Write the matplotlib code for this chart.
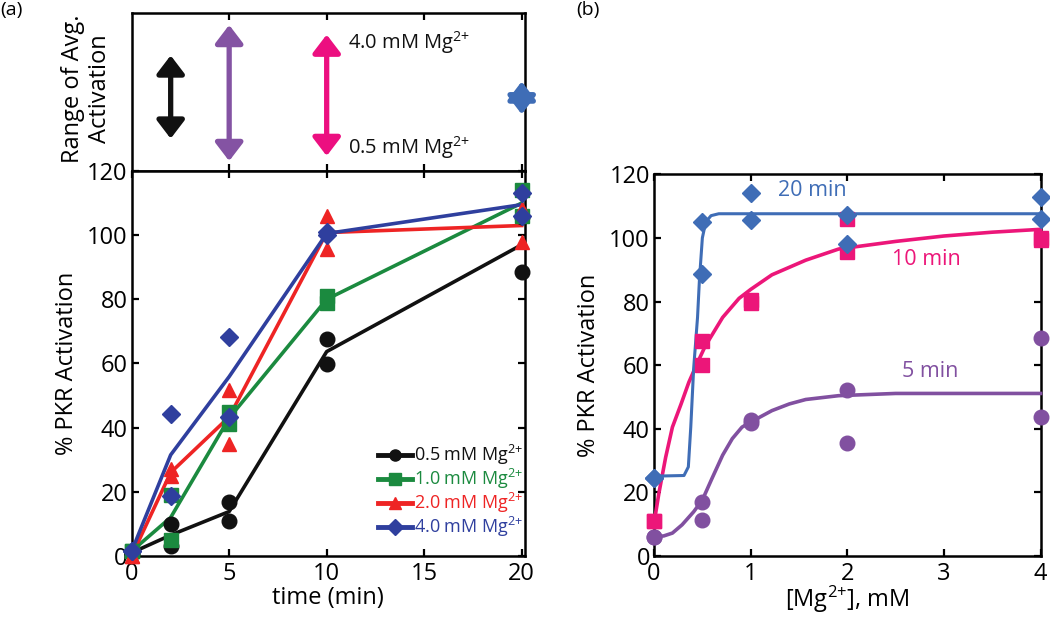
import matplotlib
matplotlib.use("Agg")
import matplotlib.pyplot as plt
import numpy as np

plt.rcParams['font.family'] = ['Open Sans', 'DejaVu Sans']
plt.rcParams['mathtext.fontset'] = 'custom'
plt.rcParams['mathtext.rm'] = 'Open Sans'
plt.rcParams['mathtext.it'] = 'Open Sans'
plt.rcParams['mathtext.default'] = 'regular'

SUP = "$^{2{+}}$"

# ---------------- Panel (a) data ----------------
time_min = [0, 2, 5, 10, 20]
conc_labels = ["0.5 mM Mg" + SUP, "1.0 mM Mg" + SUP, "2.0 mM Mg" + SUP, "4.0 mM Mg" + SUP]
a_colors = ["#111111", "#1b8a3f", "#ee2424", "#2f3f9e"]
a_markers = ["o", "s", "^", "D"]
mg05_rep1 = [1.0, 10.0, 16.7, 67.7, 88.4]
mg05_rep2 = [1.0, 3.0, 11.0, 59.7, 105.6]
mg10_rep1 = [1.5, 5.0, 41.0, 81.0, 114.0]
mg10_rep2 = [1.5, 19.0, 45.0, 79.0, 106.0]
mg20_rep1 = [0.0, 25.0, 51.7, 106.0, 98.0]
mg20_rep2 = [0.0, 27.0, 35.0, 95.6, 108.0]
mg40_rep1 = [1.5, 44.3, 68.4, 101.0, 113.0]
mg40_rep2 = [1.5, 18.7, 43.4, 100.0, 106.0]

# Range-of-average-activation arrows (top strip, fraction of strip height)
arrow_times = [2, 5, 10, 20]
arrow_low = [0.205, 0.063, 0.095, 0.359]
arrow_high = [0.732, 0.925, 0.864, 0.567]
arrow_colors = ["#111111", "#8453a3", "#ec0f80", "#3f6db6"]

# ---------------- Panel (b) data ----------------
mg_mM = [0, 0.5, 1, 2, 4]
b_labels = ["5 min", "10 min", "20 min"]
b_colors = ["#8150a0", "#ec1679", "#3f6db6"]
b_markers = ["o", "s", "D"]
min5_rep1 = [6.1, 17.0, 42.8, 52.2, 68.4]
min5_rep2 = [6.1, 11.3, 41.7, 35.4, 43.6]
min10_rep1 = [11.0, 67.7, 80.5, 106.0, 100.0]
min10_rep2 = [11.0, 60.0, 79.5, 95.7, 99.5]
min20_rep1 = [24.6, 105.0, 114.0, 107.2, 112.8]
min20_rep2 = [24.6, 88.7, 105.7, 98.0, 105.9]

# fitted curves
fit5_x = [0, 0.1, 0.19, 0.29, 0.41, 0.5, 0.6, 0.71, 0.81, 0.91, 1.0, 1.22, 1.4, 1.57, 1.91, 2.5, 4.0]
fit5_y = [6.1, 6.3, 7.2, 9.8, 13.9, 17.6, 24.4, 31.7, 36.9, 40.5, 42.1, 45.7, 47.8, 49.2, 50.4, 51.1, 51.1]
fit10_x = [0, 0.05, 0.12, 0.19, 0.28, 0.36, 0.45, 0.53, 0.71, 0.88, 1.0, 1.22, 1.57, 1.91, 2.5, 3.0, 3.5, 4.0]
fit10_y = [10.3, 19.7, 31.0, 40.5, 47.8, 54.6, 60.8, 66.0, 75.0, 81.0, 83.8, 88.4, 93.0, 96.5, 98.9, 100.6, 101.8, 102.7]
fit20_x = [0, 0.31, 0.355, 0.38, 0.41, 0.45, 0.47, 0.5, 0.535, 0.59, 0.67, 4.0]
fit20_y = [25.1, 25.3, 28.0, 40.5, 59.0, 75.0, 87.0, 100.0, 105.0, 107.0, 107.6, 107.6]

TICK_FS = 17
LABEL_FS = 17

fig = plt.figure(figsize=(10.5, 6.17), dpi=100)

def style_axes(ax):
    for s in ax.spines.values():
        s.set_linewidth(1.8)
    ax.tick_params(direction='in', length=5, width=1.6, labelsize=TICK_FS,
                   top=True, right=True)
    ax.tick_params(axis='x', pad=4)
    ax.tick_params(axis='y', pad=3)

ax_top = fig.add_axes([0.1254, 0.7229, 0.3746, 0.2558])
ax_a = fig.add_axes([0.1254, 0.0989, 0.3746, 0.624])
ax_b = fig.add_axes([0.6229, 0.0989, 0.3681, 0.6186])

# ---- top strip ----
style_axes(ax_top)
ax_top.set_xlim(0, 20.17)
ax_top.set_ylim(0, 1)
ax_top.set_xticks([5, 10, 15, 20])
ax_top.set_xticklabels([])
ax_top.set_yticks([])
ax_top.tick_params(left=False, right=False)
for x, lo, hi, c in zip(arrow_times, arrow_low, arrow_high, arrow_colors):
    ax_top.annotate('', xy=(x, hi), xytext=(x, lo),
                    arrowprops=dict(arrowstyle='<|-|>,head_length=0.55,head_width=0.42',
                                    mutation_scale=20, lw=3.8, color=c,
                                    shrinkA=0, shrinkB=0))
ax_top.text(11.1, 0.815, "4.0 mM Mg" + SUP, fontsize=14.5, va='center', ha='left', color='#111111')
ax_top.text(11.1, 0.15, "0.5 mM Mg" + SUP, fontsize=14.5, va='center', ha='left', color='#111111')
ax_top.set_ylabel("Range of Avg.\nActivation", fontsize=LABEL_FS, linespacing=1.15)
ax_top.yaxis.set_label_coords(-0.05, 0.52)

# ---- panel (a) ----
style_axes(ax_a)
a_reps = [(mg05_rep1, mg05_rep2), (mg10_rep1, mg10_rep2),
          (mg20_rep1, mg20_rep2), (mg40_rep1, mg40_rep2)]
handles = []
for (r1, r2), c, m, lab in zip(a_reps, a_colors, a_markers, conc_labels):
    mean = (np.array(r1) + np.array(r2)) / 2.0
    ms = 10.5 if m != 'D' else 9.5
    ax_a.plot(time_min, mean, '-', color=c, lw=2.6, zorder=3, clip_on=False)
    ax_a.plot(time_min, r1, m, color=c, ms=ms, mec=c, zorder=4, clip_on=False)
    ax_a.plot(time_min, r2, m, color=c, ms=ms, mec=c, zorder=4, clip_on=False)
    h, = ax_a.plot([], [], '-', marker=m, color=c, lw=3.5, ms=8, label=lab)
    handles.append(h)
ax_a.set_xlim(0, 20.17)
ax_a.set_ylim(0, 120)
ax_a.set_xticks([0, 5, 10, 15, 20])
ax_a.set_yticks([0, 20, 40, 60, 80, 100, 120])
ax_a.set_xlabel("time (min)", fontsize=LABEL_FS, labelpad=0)
ax_a.set_ylabel("% PKR Activation", fontsize=LABEL_FS, labelpad=6)
leg = ax_a.legend(handles=handles, loc='lower right', bbox_to_anchor=(1.015, 0.025),
                  frameon=False, fontsize=13, handlelength=1.9, handletextpad=0.1,
                  labelspacing=0.0, borderaxespad=0.0)
for txt, c in zip(leg.get_texts(), a_colors):
    txt.set_color(c)

# ---- panel (b) ----
style_axes(ax_b)
b_reps = [(min5_rep1, min5_rep2), (min10_rep1, min10_rep2), (min20_rep1, min20_rep2)]
b_fits = [(fit5_x, fit5_y), (fit10_x, fit10_y), (fit20_x, fit20_y)]
for (r1, r2), (fx, fy), c, m in zip(b_reps, b_fits, b_colors, b_markers):
    ms = 10.5 if m != 'D' else 9.5
    lw = 2.2 if m == 'D' else 2.6
    ax_b.plot(fx, fy, '-', color=c, lw=lw, zorder=3, clip_on=False)
    ax_b.plot(mg_mM, r1, m, color=c, ms=ms, zorder=4, clip_on=False)
    ax_b.plot(mg_mM, r2, m, color=c, ms=ms, zorder=4, clip_on=False)
ax_b.text(1.28, 114.9, "20 min", color=b_colors[2], fontsize=15.5, va='center', ha='left')
ax_b.text(2.46, 93.3, "10 min", color=b_colors[1], fontsize=15.5, va='center', ha='left')
ax_b.text(2.57, 58.0, "5 min", color=b_colors[0], fontsize=15.5, va='center', ha='left')
ax_b.set_xlim(0, 4)
ax_b.set_ylim(0, 120)
ax_b.set_xticks([0, 1, 2, 3, 4])
ax_b.set_yticks([0, 20, 40, 60, 80, 100, 120])
ax_b.set_xlabel("[Mg" + SUP + "], mM", fontsize=LABEL_FS, labelpad=-1)
ax_b.set_ylabel("% PKR Activation", fontsize=LABEL_FS, labelpad=6)

fig.text(0.0, 0.983, "(a)", fontsize=14, va='center', ha='left')
fig.text(0.549, 0.983, "(b)", fontsize=14, va='center', ha='left')

fig.savefig("out.png", dpi=100)
